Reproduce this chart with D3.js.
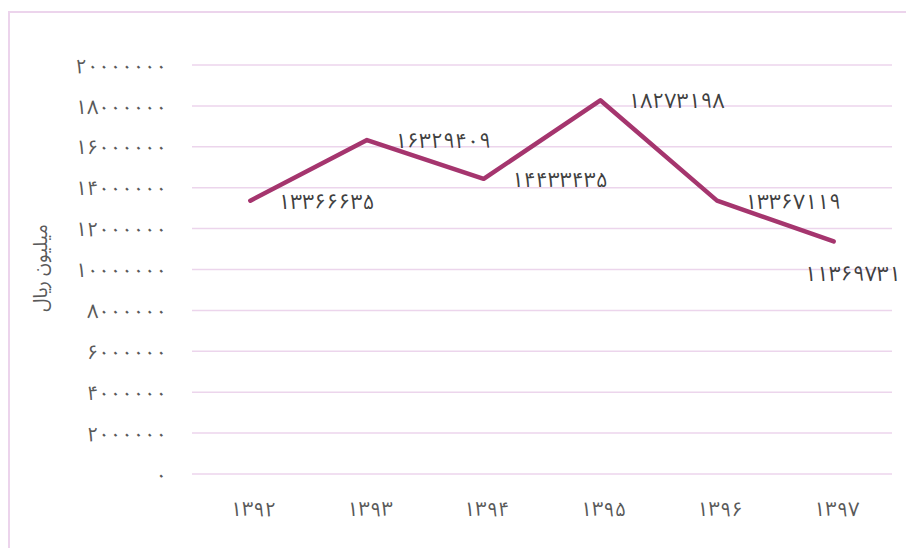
<!DOCTYPE html>
<html>
<head>
<meta charset="utf-8">
<script src="https://cdn.jsdelivr.net/npm/d3@7"></script>
<style>
  body { margin: 0; background: #fff; }
  text { font-family: "Noto Sans Arabic", "Noto Naskh Arabic", "DejaVu Sans", sans-serif; }
</style>
</head>
<body>
<script>
// years (shamsi) and values in million rial
var years = ["1392", "1393", "1394", "1395", "1396", "1397"];
var values = [13366635, 16329409, 14433435, 18273198, 13367119, 11369731];
var yTicks = [0, 2000000, 4000000, 6000000, 8000000, 10000000, 12000000, 14000000, 16000000, 18000000, 20000000];
var yTitle = "میلیون ریال";

var width = 906, height = 548;
var plotLeft = 192, plotRight = 892, plotTop = 65, plotBottom = 474;

// latin digits -> persian digits
function fa(s) {
  return String(s).replace(/[0-9]/g, function (c) { return "۰۱۲۳۴۵۶۷۸۹"[+c]; });
}

var svg = d3.select("body").append("svg").attr("width", width).attr("height", height);

// frame
svg.append("path")
  .attr("d", "M9," + height + "V12H" + width)
  .attr("fill", "none").attr("stroke", "#ecd4ec").attr("stroke-width", 2);

var x = d3.scaleBand().domain(years).range([plotLeft, plotRight]);
var y = d3.scaleLinear().domain([0, 20000000]).range([plotBottom, plotTop]);

// gridlines
svg.append("g").selectAll("line").data(yTicks).enter().append("line")
  .attr("x1", plotLeft).attr("x2", plotRight)
  .attr("y1", function (d) { return y(d); })
  .attr("y2", function (d) { return y(d); })
  .attr("stroke", "#ecd5ec").attr("stroke-width", 1.5);

// y labels
svg.append("g").selectAll("text").data(yTicks).enter().append("text")
  .attr("x", 167)
  .attr("y", function (d) { return y(d); })
  .attr("dy", "0.38em")
  .attr("text-anchor", "end")
  .attr("fill", "#595959")
  .attr("font-size", 20)
  .attr("letter-spacing", 6)
  .text(function (d) { return fa(d); });

// x labels
svg.append("g").selectAll("text").data(years).enter().append("text")
  .attr("x", function (d) { return x(d) + x.bandwidth() / 2 + 3; })
  .attr("y", 508)
  .attr("dy", "0.38em")
  .attr("text-anchor", "middle")
  .attr("fill", "#595959")
  .attr("font-size", 20)
  .attr("letter-spacing", 5)
  .text(function (d) { return fa(d); });

// y title
svg.append("text")
  .attr("transform", "translate(47,268) rotate(-90)")
  .attr("text-anchor", "middle")
  .attr("fill", "#595959")
  .attr("font-size", 19)
  .text(yTitle);

var line = d3.line()
  .x(function (d, i) { return x(years[i]) + x.bandwidth() / 2; })
  .y(function (d) { return y(d); });

svg.append("path")
  .attr("d", line(values))
  .attr("fill", "none")
  .attr("stroke", "#a5356e")
  .attr("stroke-width", 4.5)
  .attr("stroke-linejoin", "round")
  .attr("stroke-linecap", "round");

// data labels: right of point, last one below
svg.append("g").selectAll("text").data(values).enter().append("text")
  .attr("x", function (d, i) {
    var cx = x(years[i]) + x.bandwidth() / 2;
    return i == values.length - 1 ? cx + 19 : cx + 28;
  })
  .attr("y", function (d, i) { return i == values.length - 1 ? y(d) + 32 : y(d); })
  .attr("dy", "0.38em")
  .attr("text-anchor", function (d, i) { return i == values.length - 1 ? "middle" : "start"; })
  .attr("fill", "#404040")
  .attr("font-size", 21)
  .attr("letter-spacing", 6)
  .text(function (d) { return fa(d); });
</script>
</body>
</html>
